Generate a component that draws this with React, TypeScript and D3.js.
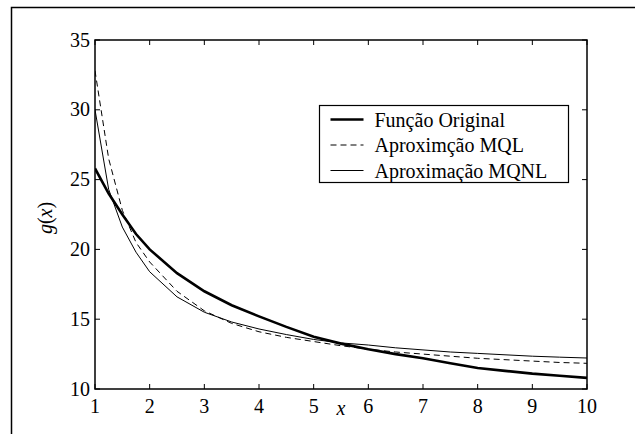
import React from 'react';
import * as d3 from 'd3';

// sample points along x
const xs = [1, 1.25, 1.5, 1.75, 2, 2.5, 3, 3.5, 4, 4.5, 5, 5.5, 6, 6.5, 7, 7.5, 8, 8.5, 9, 9.5, 10];
const original = [25.8, 24.0, 22.5, 21.1, 20.0, 18.3, 17.0, 16.0, 15.2, 14.45, 13.75, 13.25, 12.85, 12.5, 12.2, 11.85, 11.5, 11.3, 11.1, 10.95, 10.8];
const mql = [32.8, 26.5, 22.8, 20.5, 19.1, 17.0, 15.6, 14.7, 14.1, 13.7, 13.4, 13.1, 12.85, 12.65, 12.5, 12.35, 12.2, 12.1, 12.0, 11.9, 11.84];
const mqnl = [30.0, 24.3, 21.6, 19.8, 18.4, 16.6, 15.5, 14.8, 14.3, 13.9, 13.55, 13.3, 13.15, 12.95, 12.8, 12.65, 12.55, 12.45, 12.35, 12.28, 12.22];

const xTicks = [1, 2, 3, 4, 5, 6, 7, 8, 9, 10];
const yTicks = [10, 15, 20, 25, 30, 35];

const legendLabels = ['Função Original', 'Aproximção MQL', 'Aproximação MQNL'];

const W = 635, H = 434;
const left = 95, right = 587, top = 40, bottom = 389;
const tl = 5;
const FONT = '"Liberation Serif", Tinos, "Times New Roman", serif';

export default function App() {
  const x = d3.scaleLinear().domain([1, 10]).range([left, right]);
  const y = d3.scaleLinear().domain([10, 35]).range([bottom, top]);
  const line = d3.line<number>().x((_, i) => x(xs[i])).y(d => y(d));

  const series = [
    { vals: original, w: 2.6, dash: undefined },
    { vals: mql, w: 1, dash: '6,4' },
    { vals: mqnl, w: 1, dash: undefined },
  ];

  return (
    <svg width={W} height={H} fontFamily={FONT}
      style={{ position: 'absolute', left: 0, top: 0, fontFamily: FONT }}>
      <style>{`text, tspan { font-family: ${FONT} !important; }`}</style>
      <rect width={W} height={H} fill="#fff" />
      {/* outer figure frame, cut off on the right and bottom */}
      <path d={`M11.5,${H}V7.5H${W}`} fill="none" stroke="#000" strokeWidth={1.5} />

      <defs>
        <clipPath id="clip">
          <rect x={left} y={top} width={right - left} height={bottom - top} />
        </clipPath>
      </defs>

      <g clipPath="url(#clip)">
        {series.map((s, i) => (
          <path key={i} d={line(s.vals) || ''} fill="none" stroke="#000"
            strokeWidth={s.w} strokeDasharray={s.dash} />
        ))}
      </g>

      <rect x={left} y={top} width={right - left} height={bottom - top}
        fill="none" stroke="#000" strokeWidth={1.5} />

      {/* ticks point inward on all four sides */}
      {xTicks.map(t => (
        <g key={'x' + t}>
          <line x1={x(t)} x2={x(t)} y1={bottom} y2={bottom - tl} stroke="#000" />
          <line x1={x(t)} x2={x(t)} y1={top} y2={top + tl} stroke="#000" />
          <text x={x(t)} y={413} textAnchor="middle" fontSize={20}>{t}</text>
        </g>
      ))}
      {yTicks.map(t => (
        <g key={'y' + t}>
          <line x1={left} x2={left + tl} y1={y(t)} y2={y(t)} stroke="#000" />
          <line x1={right} x2={right - tl} y1={y(t)} y2={y(t)} stroke="#000" />
          <text x={90} y={y(t) + 6.5} textAnchor="end" fontSize={20}>{t}</text>
        </g>
      ))}

      {/* axis labels */}
      <text x={341} y={415} textAnchor="middle" fontSize={20} fontStyle="italic">x</text>
      <text transform="translate(52,218) rotate(-90)" textAnchor="middle" fontSize={20}>
        <tspan fontStyle="italic">g</tspan>(<tspan fontStyle="italic">x</tspan>)
      </text>

      {/* legend */}
      <g transform="translate(319.5,105.5)">
        <rect width={249} height={77} fill="#fff" stroke="#000" strokeWidth={1.2} />
        {legendLabels.map((label, i) => {
          const s = series[i];
          const ly = 14 + i * 25.5;
          return (
            <g key={label}>
              <line x1={11} x2={44} y1={ly} y2={ly} stroke="#000"
                strokeWidth={s.w} strokeDasharray={s.dash} />
              <text x={55} y={ly + 7} fontSize={20}>{label}</text>
            </g>
          );
        })}
      </g>
    </svg>
  );
}
